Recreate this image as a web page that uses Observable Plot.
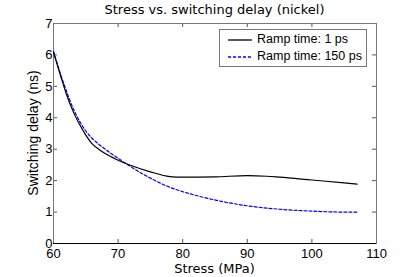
<!DOCTYPE html>
<html><head><meta charset="utf-8">
<script src="https://cdn.jsdelivr.net/npm/d3@7"></script>
<script src="https://cdn.jsdelivr.net/npm/@observablehq/plot@0.6"></script>
<style>
body{margin:0;background:#fff;}
#wrap{position:relative;width:415px;height:277px;}
.ov{position:absolute;font-family:"DejaVu Sans",sans-serif;color:#000;white-space:nowrap;line-height:1;}
#legend{position:absolute;left:219px;top:29px;width:146px;height:36px;border:1px solid #777;background:#fff;font-family:"Liberation Sans",Arial,sans-serif;font-size:12.5px;}
#legend .row{position:absolute;left:8px;height:16px;line-height:16px;}
#legend svg{vertical-align:middle;margin-right:5px;}
</style></head>
<body><div id="wrap"></div>
<script>
const stress1 = [60,61,62,63,64,65,66,67,68,70,72,75,78,80,85,90,93,95,100,105,107];
const delay1  = [6.08,5.4,4.75,4.22,3.8,3.45,3.17,3.0,2.86,2.65,2.48,2.28,2.13,2.11,2.12,2.16,2.14,2.11,2.02,1.93,1.89];
const stress2 = [60,61,62,63,64,65,66,67,68,70,71,72,73,75,78,80,83,86,90,95,100,105,107];
const delay2  = [6.12,5.45,4.85,4.32,3.9,3.58,3.34,3.16,3.0,2.71,2.57,2.44,2.31,2.08,1.79,1.65,1.48,1.34,1.2,1.09,1.03,1.0,1.0];
const xTicks = [60,70,80,90,100,110];
const yTicks = [0,1,2,3,4,5,6,7];
const seriesNames = ["Ramp time: 1 ps","Ramp time: 150 ps"];
const seriesColors = ["#000000","#0000ff"];
const titleText = "Stress vs. switching delay (nickel)";
const xLabel = "Stress (MPa)";
const yLabel = "Switching delay (ns)";

const s1 = stress1.map((x,i)=>({x, y: delay1[i]}));
const s2 = stress2.map((x,i)=>({x, y: delay2[i]}));
const innerX = xTicks.slice(1,-1);
const innerY = yTicks.slice(1,-1);

const W = 415, H = 277, mL = 53, mR = 39, mT = 23, mB = 34;
const pw = W - mL - mR, ph = H - mT - mB;

const chart = Plot.plot({
  width: W, height: H,
  marginLeft: mL, marginRight: mR, marginTop: mT, marginBottom: mB,
  x: {domain: [60,110]},
  y: {domain: [0,7]},
  style: {fontFamily: "Liberation Sans, Arial, sans-serif", fontSize: "13px", color: "#000", background: "#fff"},
  marks: [
    Plot.tickX(innerX, {x: d=>d, insetTop: ph-4, stroke: "#555"}),
    Plot.tickX(innerX, {x: d=>d, insetBottom: ph-4, stroke: "#555"}),
    Plot.tickY(innerY, {y: d=>d, insetRight: pw-4, stroke: "#555"}),
    Plot.tickY(innerY, {y: d=>d, insetLeft: pw-4, stroke: "#555"}),
    Plot.frame({stroke: "#777"}),
    Plot.ruleY([0], {stroke: "#000"}),
    Plot.axisX(xTicks, {tickSize: 0, tickPadding: 5, label: null, fontSize: 13}),
    Plot.axisY(yTicks, {tickSize: 0, tickPadding: 1, label: null, fontSize: 13}),
    Plot.line(s2, {x: "x", y: "y", stroke: seriesColors[1], strokeWidth: 1.2, strokeDasharray: "3,2", curve: "monotone-x"}),
    Plot.line(s1, {x: "x", y: "y", stroke: seriesColors[0], strokeWidth: 1.2, curve: "monotone-x"})
  ]
});
const wrap = document.getElementById("wrap");
wrap.appendChild(chart);

function ov(text, css){ const d=document.createElement("div"); d.className="ov"; d.textContent=text; Object.assign(d.style, css); wrap.appendChild(d); return d; }
ov(titleText, {left: (mL + pw/2) + "px", top: "3px", transform: "translateX(-50%)", fontSize: "13px"});
ov(xLabel, {left: (mL + pw/2) + "px", top: "262px", transform: "translateX(-50%)", fontSize: "13px"});
ov(yLabel, {left: "33px", top: (mT + ph/2) + "px", transform: "translate(-50%,-50%) rotate(-90deg)", fontSize: "14px", fontFamily: "Liberation Sans, Arial, sans-serif"});

const lg = document.createElement("div"); lg.id="legend"; wrap.appendChild(lg);
seriesNames.forEach((name,i)=>{
  const r = document.createElement("div"); r.className="row"; r.style.top = (1 + i*17) + "px";
  r.innerHTML = `<svg width="24" height="4"><line x1="0" y1="2" x2="24" y2="2" stroke="${seriesColors[i]}" stroke-width="1.3" ${i? 'stroke-dasharray="3,2"':''}/></svg>`;
  r.appendChild(document.createTextNode(name));
  lg.appendChild(r);
});
</script></body></html>
